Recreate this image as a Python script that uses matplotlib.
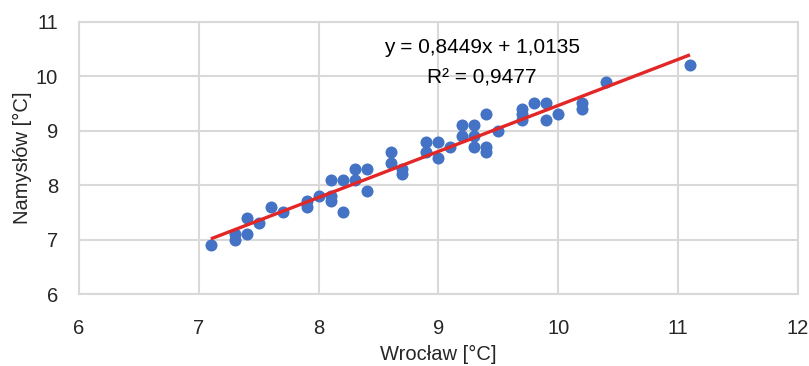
import numpy as np
import matplotlib.pyplot as plt

plt.rcParams['font.family'] = ['Liberation Sans', 'DejaVu Sans']

# Wrocław vs Namysłów temperatures
wroclaw = [7.1, 7.3, 7.3, 7.4, 7.4, 7.5, 7.6, 7.7, 7.9, 7.9, 8.0,
           8.1, 8.1, 8.1, 8.2, 8.2, 8.3, 8.3, 8.4, 8.4, 8.6, 8.6,
           8.7, 8.7, 8.9, 8.9, 9.0, 9.0, 9.1, 9.2, 9.2, 9.3, 9.3, 9.3,
           9.4, 9.4, 9.4, 9.5, 9.7, 9.7, 9.7, 9.8, 9.9, 9.9, 10.0,
           10.2, 10.2, 10.4, 11.1]
namyslow = [6.9, 7.0, 7.1, 7.4, 7.1, 7.3, 7.6, 7.5, 7.7, 7.6, 7.8,
            8.1, 7.8, 7.7, 8.1, 7.5, 8.3, 8.1, 8.3, 7.9, 8.6, 8.4,
            8.3, 8.2, 8.8, 8.6, 8.8, 8.5, 8.7, 9.1, 8.9, 9.1, 8.9, 8.7,
            9.3, 8.7, 8.6, 9.0, 9.4, 9.3, 9.2, 9.5, 9.5, 9.2, 9.3,
            9.5, 9.4, 9.9, 10.2]
slope, intercept = 0.8449, 1.0135
r2 = 0.9477

fig = plt.figure(figsize=(8.09, 3.66), dpi=100)
ax = fig.add_axes([0.0977, 0.1967, 0.8885, 0.744])

ax.scatter(wroclaw, namyslow, s=75, color='#4472C4', zorder=3, linewidths=0)
xs = np.array([min(wroclaw), max(wroclaw)])
ax.plot(xs, slope * xs + intercept, color='#E32626', lw=2.4, zorder=4,
        solid_capstyle='butt')

ax.text(9.36, 10.52, 'y = 0,8449x + 1,0135', ha='center', va='center', fontsize=15)
ax.text(9.36, 9.97, 'R² = 0,9477', ha='center', va='center', fontsize=15)

ax.set_xlim(6, 12)
ax.set_ylim(6, 11)
ax.set_xticks(range(6, 13))
ax.set_yticks(range(6, 12))
ax.grid(True, color='#d9d9d9', lw=1.5, zorder=0)
for s in ax.spines.values():
    s.set_color('#d9d9d9')
    s.set_linewidth(1.5)
ax.tick_params(length=0, labelsize=14.5, colors='#262626')
ax.tick_params(axis='x', pad=18)
ax.tick_params(axis='y', pad=15)
ax.set_xlabel('Wrocław [°C]', fontsize=14.5, color='#262626', labelpad=5)
ax.set_ylabel('Namysłów [°C]', fontsize=14.5, color='#262626', labelpad=3)

fig.savefig('out.png', dpi=100)
